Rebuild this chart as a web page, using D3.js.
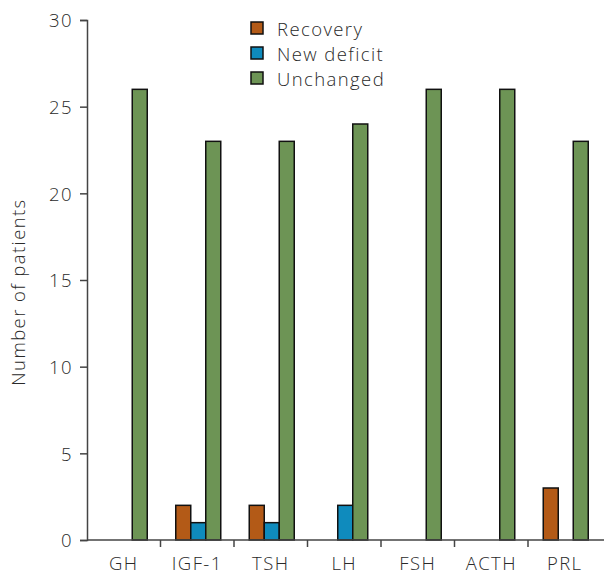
<!DOCTYPE html>
<html>
<head>
<meta charset="utf-8">
<script src="https://cdn.jsdelivr.net/npm/d3@7"></script>
<style>
  html, body { margin: 0; padding: 0; background: #fff; }
  svg text { font-family: "Open Sans", sans-serif; font-weight: 300; fill: #2a2a2a; font-size: 18.5px; letter-spacing: 1.4px; }
</style>
</head>
<body>
<svg id="chart" width="604" height="574"></svg>
<script>
// Hormone axes assessed
const categories = ["GH", "IGF-1", "TSH", "LH", "FSH", "ACTH", "PRL"];
// Patient counts per outcome
const recovery   = [0, 2, 2, 0, 0, 0, 3];
const newDeficit = [0, 1, 1, 2, 0, 0, 0];
const unchanged  = [26, 23, 23, 24, 26, 26, 23];
const seriesNames = ["Recovery", "New deficit", "Unchanged"];
const seriesColors = ["#b35a17", "#0f8bbd", "#6d9455"];
const yTicks = [0, 5, 10, 15, 20, 25, 30];

const series = [recovery, newDeficit, unchanged];
const svg = d3.select("#chart");
const plotLeft = 87, plotRight = 601.5, plotTop = 20, plotBottom = 540;

const x = d3.scaleBand().domain(categories).range([plotLeft, plotRight]);
const xSub = d3.scaleBand().domain(seriesNames).range([0, x.bandwidth()]).paddingOuter(0.95).paddingInner(0);
const y = d3.scaleLinear().domain([0, 30]).range([plotBottom, plotTop]);

// Bars (zero counts are left out)
const rows = [];
categories.forEach((c, i) => {
  series.forEach((s, j) => {
    if (s[i] > 0) rows.push({ cat: c, name: seriesNames[j], value: s[i], color: seriesColors[j] });
  });
});
svg.append("g").selectAll("rect").data(rows).join("rect")
  .attr("x", d => x(d.cat) + xSub(d.name) + 1)
  .attr("y", d => y(d.value))
  .attr("width", xSub.bandwidth())
  .attr("height", d => y(0) - y(d.value))
  .attr("fill", d => d.color)
  .attr("stroke", "#111")
  .attr("stroke-width", 1.5);

// Y axis
const yAxis = svg.append("g").attr("transform", `translate(${plotLeft},0)`)
  .call(d3.axisLeft(y).tickValues(yTicks).tickSize(7).tickPadding(7));
yAxis.attr("font-size", null).attr("font-family", null);
yAxis.select(".domain").attr("stroke", "#444").attr("stroke-width", 1.5);
yAxis.selectAll(".tick line").attr("stroke", "#444").attr("stroke-width", 1.5);
yAxis.selectAll("text").attr("fill", null).attr("dy", "0.36em");

// X axis: line plus separators between categories
const xg = svg.append("g");
xg.append("line").attr("x1", plotLeft).attr("x2", 604).attr("y1", plotBottom).attr("y2", plotBottom)
  .attr("stroke", "#444").attr("stroke-width", 1.5);
xg.selectAll("line.sep").data(categories.slice(1)).join("line").attr("class", "sep")
  .attr("x1", d => x(d)).attr("x2", d => x(d))
  .attr("y1", plotBottom).attr("y2", plotBottom + 7)
  .attr("stroke", "#444").attr("stroke-width", 1.5);
xg.selectAll("text").data(categories).join("text")
  .attr("x", d => x(d) + x.bandwidth() / 2)
  .attr("y", 570)
  .attr("text-anchor", "middle")
  .text(d => d);

// Y axis title
svg.append("text")
  .attr("transform", `translate(25,${(plotTop + plotBottom) / 2 + 12}) rotate(-90)`)
  .attr("text-anchor", "middle")
  .text("Number of patients");

// Legend
const legend = svg.append("g").attr("transform", "translate(251,22)");
seriesNames.forEach((n, i) => {
  const g = legend.append("g").attr("transform", `translate(0,${i * 25})`);
  g.append("rect").attr("width", 12).attr("height", 12)
    .attr("fill", seriesColors[i]).attr("stroke", "#111").attr("stroke-width", 1.5);
  g.append("text").attr("x", 26).attr("y", 14).text(n);
});
</script>
</body>
</html>
